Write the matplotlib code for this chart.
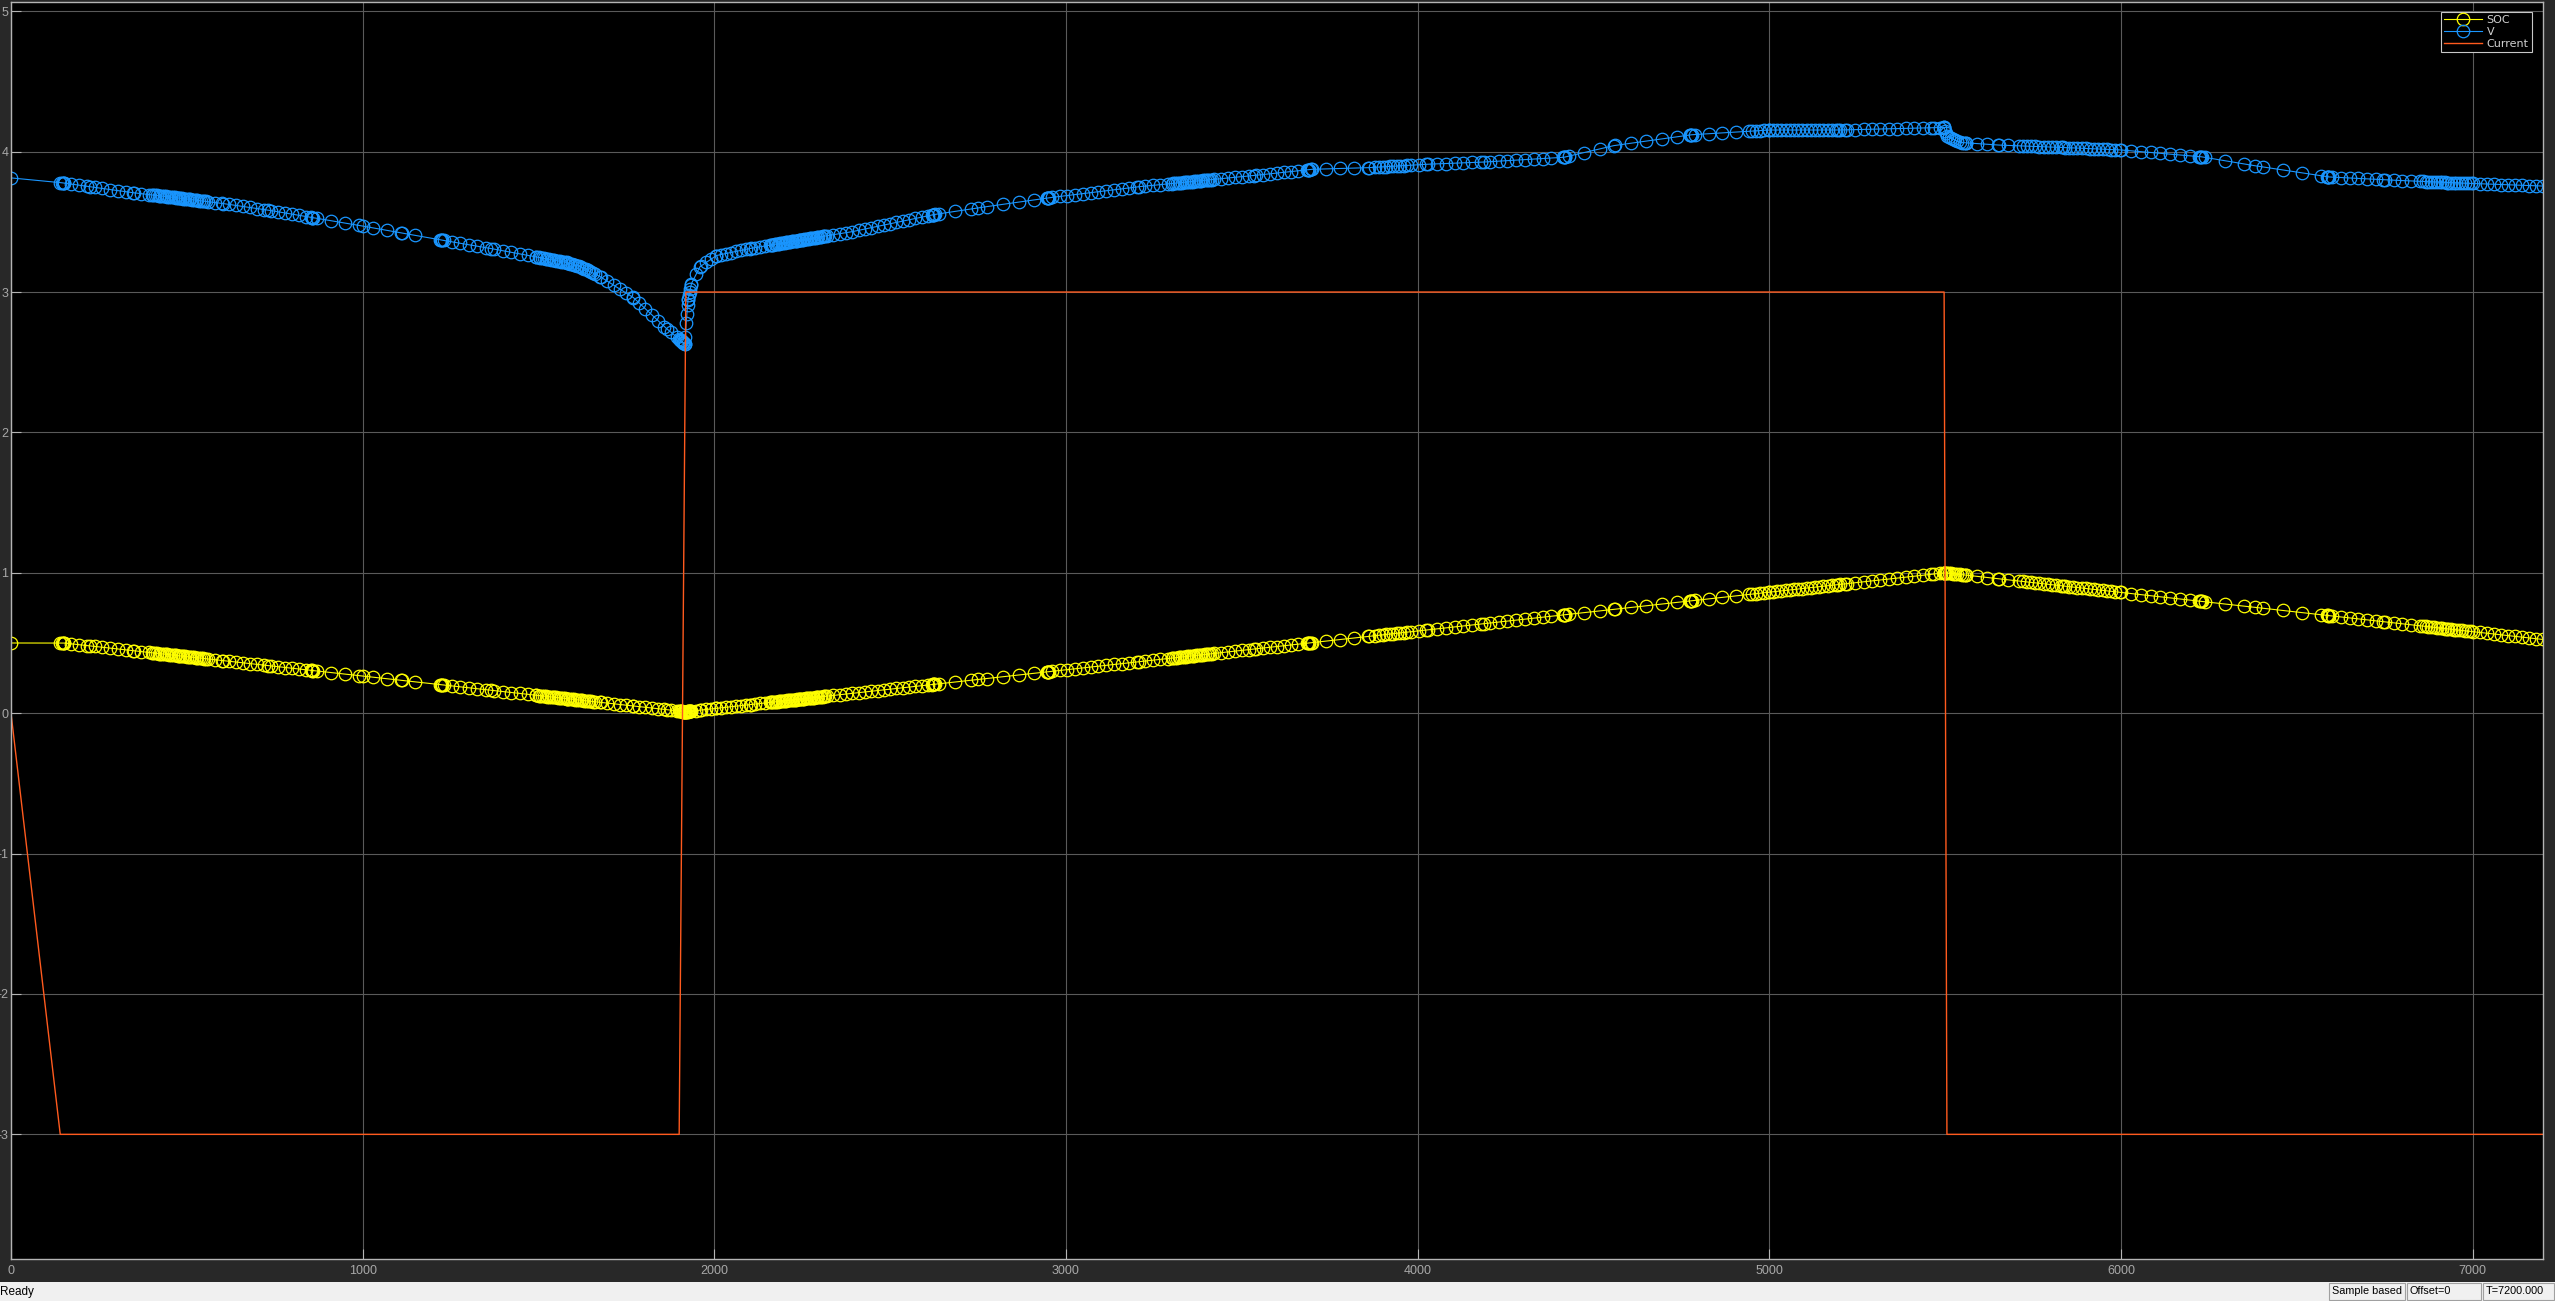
import numpy as np
import matplotlib
matplotlib.use('Agg')
import matplotlib.pyplot as plt
from matplotlib.patches import Rectangle

plt.rcParams['axes.unicode_minus'] = False

# SOC (yellow) - knee points
t_soc_key = [0, 150, 1917, 5500, 7200]
soc_key = [0.5, 0.5, 0.01, 1.0, 0.525]

# terminal voltage V (blue)
t_v_key = [0, 140, 224, 349, 477, 604, 730, 857, 1000, 1112, 1225, 1365, 1492,
           1581, 1620, 1675, 1770, 1864, 1902, 1917, 1920, 1925, 1935, 1959,
           2006, 2101, 2243, 2392, 2620, 2751, 2947, 3207, 3535, 3697, 3861,
           4024, 4188, 4416, 4558, 4777, 5000, 5196, 5469, 5497, 5505, 5541,
           5652, 5834, 6000, 6227, 6380, 6590, 6745, 6927, 7200]
v_key = [3.813, 3.78, 3.75, 3.707, 3.67, 3.63, 3.584, 3.53, 3.47, 3.42, 3.37,
         3.31, 3.25, 3.21, 3.18, 3.11, 2.96, 2.74, 2.66, 2.63, 2.78, 2.94, 3.06,
         3.18, 3.26, 3.31, 3.37, 3.43, 3.55, 3.60, 3.67, 3.75, 3.83, 3.874,
         3.886, 3.91, 3.926, 3.96, 4.043, 4.12, 4.154, 4.154, 4.17, 4.173, 4.11,
         4.066, 4.047, 4.03, 4.012, 3.964, 3.90, 3.82, 3.80, 3.78, 3.755]

# battery current (orange)
t_cur = [0, 140, 1900, 1919, 5497, 5505, 7200]
cur = [0, -3, -3, 3, 3, -3, -3]

# solver step density seen in the marker spacing: (start, end, step)
sample_regions = [(150, 400, 22), (400, 560, 5), (560, 850, 20), (870, 1190, 40),
                  (1230, 1500, 24), (1500, 1660, 5), (1660, 1900, 18), (1900, 1935, 2),
                  (1935, 2160, 14), (2160, 2320, 4), (2320, 2610, 18), (2640, 2930, 45),
                  (2960, 3300, 22), (3300, 3420, 5), (3420, 3680, 20), (3700, 3880, 40),
                  (3880, 3980, 10), (3980, 4400, 25), (4430, 4770, 44), (4790, 4950, 38),
                  (4950, 5220, 12), (5220, 5490, 24), (5505, 5560, 6), (5560, 5720, 30),
                  (5720, 6000, 12), (6000, 6220, 28), (6240, 6580, 55), (6600, 6850, 25),
                  (6850, 7000, 8), (7000, 7200, 20)]
cluster_times = [150, 857, 1225, 2625, 2950, 3690, 4418, 4777, 5500, 6227, 6590]

t_s = [0.0]
for a, b, s in sample_regions:
    t_s.extend(np.arange(a, b, s))
for c in cluster_times:
    t_s.extend([c - 4, c - 2, c, c + 2])
t_s = np.union1d(np.union1d(t_s, t_v_key), t_soc_key)
t_s = t_s[(t_s >= 0) & (t_s <= 7200)]
soc_s = np.interp(t_s, t_soc_key, soc_key)
v_s = np.interp(t_s, t_v_key, v_key)

W, H = 2555, 1301
fig = plt.figure(figsize=(W / 100, H / 100), dpi=100, facecolor='#282828')
ax = fig.add_axes([11 / W, (H - 1259) / H, (2543 - 11) / W, (1259 - 2) / H])
ax.set_facecolor('black')

ax.plot(t_s, soc_s, '-o', color='#ffff00', lw=0.8, ms=9, mfc='none', mew=0.9, label='SOC')
ax.plot(t_s, v_s, '-o', color='#1a96ff', lw=0.8, ms=9, mfc='none', mew=0.9, label='V')
ax.plot(t_cur, cur, '-', color='#ff5a1e', lw=1.0, label='Current')

ax.set_xlim(0, 7200)
ax.set_ylim(-3.888, 5.066)
ax.set_xticks(range(0, 7001, 1000))
ax.set_yticks(range(-3, 6))
ax.grid(True, color='#5a5a5a', lw=0.8)
ax.tick_params(direction='in', length=7, color='#b4b4b4', labelcolor='#a8a8a8',
               labelsize=9)
ax.tick_params(axis='y', pad=2)
ax.tick_params(axis='x', pad=4)
for lab in ax.get_xticklabels() + ax.get_yticklabels():
    lab.set_family(['Liberation Sans Narrow', 'Liberation Sans', 'DejaVu Sans'])
for sp in ax.spines.values():
    sp.set_color('#b4b4b4')
    sp.set_linewidth(1)

leg = ax.legend(loc='upper right', bbox_to_anchor=((2532 - 11) / (2543 - 11), 1 - 10 / 1257),
                borderaxespad=0, fontsize=8, frameon=True, fancybox=False,
                facecolor='black', edgecolor='#c8c8c8', framealpha=1,
                handlelength=3.4, handletextpad=0.4, labelspacing=0.15, borderpad=0.3)
for txt in leg.get_texts():
    txt.set_color('#d0d0d0')
leg.get_frame().set_linewidth(0.8)

# status bar of the scope window
sb_h = 19 / H
fig.patches.append(Rectangle((0, 0), 1, sb_h, transform=fig.transFigure,
                             facecolor='#f0f0f0', edgecolor='none', zorder=0))
fig.text(0, sb_h / 2, 'Ready', fontsize=8.5, color='black', va='center', ha='left',
         family='Liberation Sans')
boxes = [(2329, 2405, 'Sample based'), (2407, 2481, 'Offset=0'), (2483, 2554, 'T=7200.000')]
for x0, x1, label in boxes:
    fig.patches.append(Rectangle((x0 / W, 1 / H), (x1 - x0) / W, 17 / H,
                                 transform=fig.transFigure, facecolor='#f0f0f0',
                                 edgecolor='#a0a0a0', lw=0.8))
    fig.text((x0 + 3) / W, sb_h / 2, label, fontsize=7.8, color='black', va='center',
             ha='left', family='Liberation Sans')

fig.savefig('out.png', dpi=100, facecolor=fig.get_facecolor())
